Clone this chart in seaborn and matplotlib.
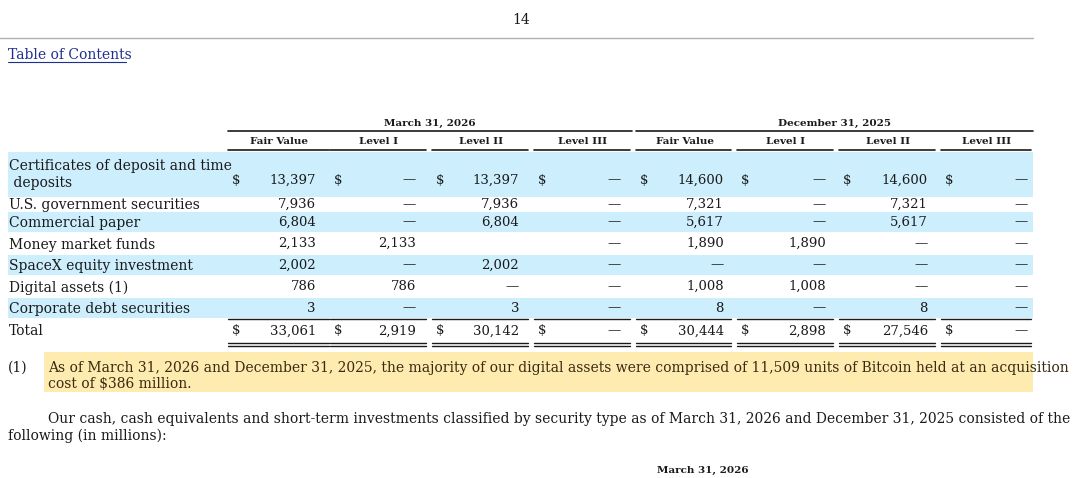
import matplotlib.pyplot as plt
import seaborn as sns

sns.set_style("white")
plt.rcParams['font.family'] = ['DejaVu Serif']

groups = ["March 31, 2026", "December 31, 2025"]
col_heads = ["Fair Value", "Level I", "Level II", "Level III"]
row_labels = ["Certificates of deposit and time\n deposits", "U.S. government securities",
              "Commercial paper", "Money market funds", "SpaceX equity investment",
              "Digital assets (1)", "Corporate debt securities"]
mar_fair = ["13,397", "7,936", "6,804", "2,133", "2,002", "786", "3"]
mar_l1 = ["—", "—", "—", "2,133", "—", "786", "—"]
mar_l2 = ["13,397", "7,936", "6,804", "", "2,002", "—", "3"]
mar_l3 = ["—", "—", "—", "—", "—", "—", "—"]
dec_fair = ["14,600", "7,321", "5,617", "1,890", "—", "1,008", "8"]
dec_l1 = ["—", "—", "—", "1,890", "—", "1,008", "—"]
dec_l2 = ["14,600", "7,321", "5,617", "—", "—", "—", "8"]
dec_l3 = ["—", "—", "—", "—", "—", "—", "—"]
totals = ["33,061", "2,919", "30,142", "—", "30,444", "2,898", "27,546", "—"]
columns = [mar_fair, mar_l1, mar_l2, mar_l3, dec_fair, dec_l1, dec_l2, dec_l3]

fig = plt.figure(figsize=(10.8, 4.78), dpi=100)
ax = fig.add_axes([0, 0, 1, 1])
ax.set_xlim(0, 1080)
ax.set_ylim(478, 0)
ax.axis("off")

ink = "#1a1a1a"
# page header
ax.text(521, 20, "14", ha="center", va="center", fontsize=10, color=ink)
ax.plot([0, 1033], [38, 38], color="#b0b0b0", lw=1)
ax.text(8, 55, "Table of Contents", va="center", fontsize=10, color="#1f2f8f")
ax.plot([8, 126], [62, 62], color="#1f2f8f", lw=0.8)

# column geometry
col_left = [228, 330, 432, 534, 636, 737, 839, 941]
col_right = [331, 428, 530, 632, 733, 835, 937, 1033]
dollar_x = [232, 334, 436, 538, 640, 741, 843, 945]
value_x = [316, 416, 519, 621, 724, 826, 928, 1028]

for g, (l, r) in zip(groups, [(228, 632), (636, 1033)]):
    ax.text((l + r) / 2, 123, g, ha="center", va="center", fontsize=7.5, weight="bold", color=ink)
    ax.plot([l, r], [131, 131], color=ink, lw=1.2)
for i in range(8):
    ax.text((col_left[i] + col_right[i]) / 2, 142, col_heads[i % 4], ha="center",
            va="center", fontsize=7.5, weight="bold", color=ink)
    ax.plot([col_left[i], col_right[i] - 2], [150, 150], color=ink, lw=1.2)

# rows
row_top = [152, 197, 212, 233, 255, 276, 298]
row_bot = [197, 212, 232, 254, 275, 297, 318]
for k, lab in enumerate(row_labels):
    if k % 2 == 0:
        ax.fill_between([8, 1033], row_top[k], row_bot[k], color="#cdeefc", lw=0)
    yc = 180 if k == 0 else (row_top[k] + row_bot[k]) / 2
    ax.text(9, (row_top[k] + row_bot[k]) / 2 + (1 if k else 0), lab, va="center",
            fontsize=10, color=ink, linespacing=1.25)
    for i, col in enumerate(columns):
        if k == 0:
            ax.text(dollar_x[i], yc, "$", va="center", fontsize=9.5, color=ink)
        ax.text(value_x[i], yc, col[k], ha="right", va="center", fontsize=9.5, color=ink)

# total row
for i in range(8):
    ax.plot([col_left[i], col_right[i] - 2], [319, 319], color=ink, lw=1)
    ax.plot([col_left[i], col_right[i] - 2], [343, 343], color=ink, lw=1)
    ax.plot([col_left[i], col_right[i] - 2], [346, 346], color=ink, lw=1)
    ax.text(dollar_x[i], 331, "$", va="center", fontsize=9.5, color=ink)
    ax.text(value_x[i], 331, totals[i], ha="right", va="center", fontsize=9.5, color=ink)
ax.text(9, 331, "Total", va="center", fontsize=10, color=ink)

# footnote
ax.fill_between([44, 1033], 352, 392, color="#fdebb0", lw=0)
ax.text(8, 368, "(1)", va="center", fontsize=10, color=ink)
ax.text(48, 368, "As of March 31, 2026 and December 31, 2025, the majority of our digital assets were comprised of 11,509 units of Bitcoin held at an acquisition",
        va="center", fontsize=10, color="#3a2a10")
ax.text(48, 384, "cost of $386 million.", va="center", fontsize=10, color="#3a2a10")
ax.text(48, 419, "Our cash, cash equivalents and short-term investments classified by security type as of March 31, 2026 and December 31, 2025 consisted of the",
        va="center", fontsize=10, color=ink)
ax.text(8, 436, "following (in millions):", va="center", fontsize=10, color=ink)
ax.text(703, 470, "March 31, 2026", ha="center", va="center", fontsize=7.5, weight="bold", color=ink)

fig.savefig("out.png", dpi=100)
